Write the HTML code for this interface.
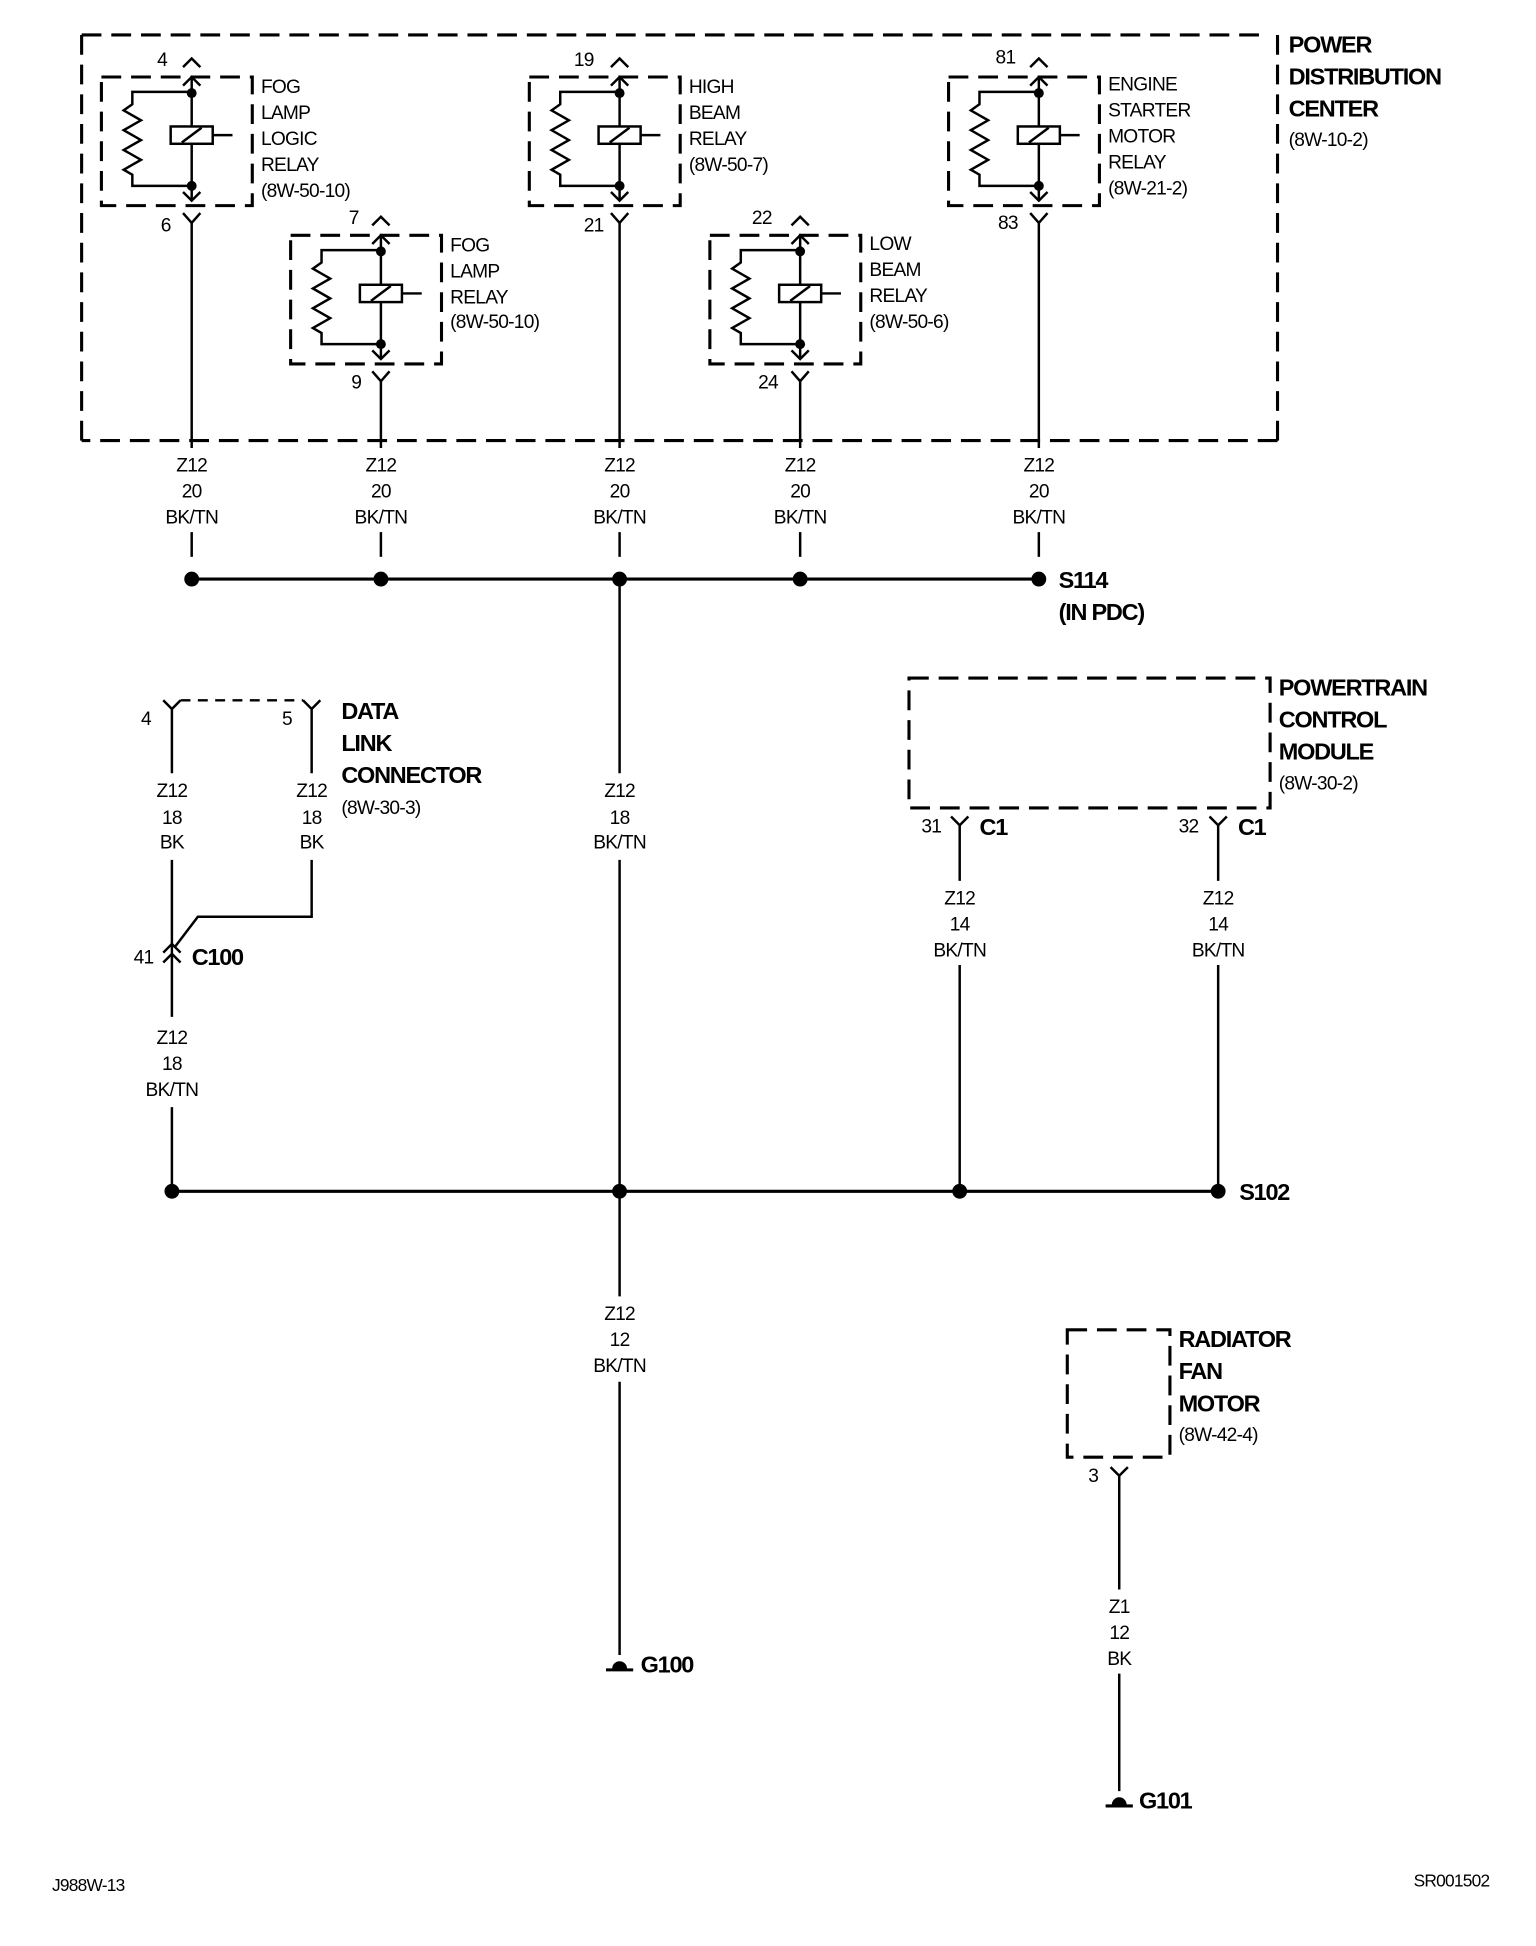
<!DOCTYPE html>
<html><head><meta charset="utf-8"><style>
html,body{margin:0;padding:0;background:#fff}
svg{display:block}
text{font-family:"Liberation Sans",sans-serif;fill:#000}
.s{font-size:15.5px;letter-spacing:-0.6px}
.b{font-size:19px;font-weight:bold;letter-spacing:-1px}
.m{text-anchor:middle}
</style></head><body>
<svg width="1536" height="1946" viewBox="0 0 1242 1573" xmlns="http://www.w3.org/2000/svg">
<defs>
<g id="relay" fill="none" stroke="#000" stroke-width="2">
<rect x="-73" y="0" width="122" height="104" stroke-width="2.5" stroke-dasharray="16,8"/>
<path d="M-7,-8 L0,-15 L7,-8"/>
<path d="M-7,7 L0,0 L7,7"/>
<line x1="0" y1="0" x2="0" y2="40"/>
<line x1="0" y1="54" x2="0" y2="100"/>
<path d="M-7,93 L0,100 L7,93"/>
<rect x="-17" y="40" width="34" height="14"/>
<line x1="-8" y1="53" x2="8" y2="41"/>
<line x1="17" y1="47" x2="33" y2="47"/>
<path d="M0,12 L-48,12 L-48,22 L-55,27 L-41,35 L-55,43 L-41,51 L-55,59 L-41,67 L-55,75 L-48,79 L-48,88 L0,88"/>
<circle cx="0" cy="13" r="4" fill="#000" stroke="none"/>
<circle cx="0" cy="88" r="4" fill="#000" stroke="none"/>
<path d="M-7,110 L0,118 L7,110"/>
</g>
<g id="gnd"><path d="M-11,1 L11,1" stroke="#000" stroke-width="2.5"/><path d="M-6,0 A6,6 0 0 1 6,0 Z" fill="#000"/></g>
</defs>

<!-- PDC box -->
<g fill="none" stroke="#000" stroke-width="2.5" stroke-dasharray="16,8">
<line x1="66" y1="28" x2="1026" y2="28"/>
<line x1="1033" y1="28" x2="1033" y2="356"/>
<line x1="1033" y1="356" x2="66" y2="356"/>
<line x1="66" y1="356" x2="66" y2="28"/>
</g>
<text class="b" x="1042" y="42">POWER</text>
<text class="b" x="1042" y="68">DISTRIBUTION</text>
<text class="b" x="1042" y="94">CENTER</text>
<text class="s" x="1042" y="118">(8W-10-2)</text>

<use href="#relay" x="155" y="62"/>
<use href="#relay" x="308" y="190"/>
<use href="#relay" x="501" y="62"/>
<use href="#relay" x="647" y="190"/>
<use href="#relay" x="840" y="62"/>

<g class="s">
<text x="127" y="53">4</text><text x="130" y="187">6</text>
<text x="282" y="181">7</text><text x="284" y="314">9</text>
<text x="464" y="53">19</text><text x="472" y="187">21</text>
<text x="608" y="181">22</text><text x="613" y="314">24</text>
<text x="805" y="51">81</text><text x="807" y="185">83</text>

<text x="211" y="75">FOG</text><text x="211" y="96">LAMP</text><text x="211" y="117">LOGIC</text><text x="211" y="138">RELAY</text><text x="211" y="159">(8W-50-10)</text>
<text x="364" y="203">FOG</text><text x="364" y="224">LAMP</text><text x="364" y="245">RELAY</text><text x="364" y="265">(8W-50-10)</text>
<text x="557" y="75">HIGH</text><text x="557" y="96">BEAM</text><text x="557" y="117">RELAY</text><text x="557" y="138">(8W-50-7)</text>
<text x="703" y="202">LOW</text><text x="703" y="223">BEAM</text><text x="703" y="244">RELAY</text><text x="703" y="265">(8W-50-6)</text>
<text x="896" y="73">ENGINE</text><text x="896" y="94">STARTER</text><text x="896" y="115">MOTOR</text><text x="896" y="136">RELAY</text><text x="896" y="157">(8W-21-2)</text>
</g>

<g stroke="#000" stroke-width="2" fill="none">
<line x1="155" y1="180" x2="155" y2="362"/><line x1="155" y1="430" x2="155" y2="450"/>
<line x1="308" y1="308" x2="308" y2="362"/><line x1="308" y1="430" x2="308" y2="450"/>
<line x1="501" y1="180" x2="501" y2="362"/><line x1="501" y1="430" x2="501" y2="450"/>
<line x1="647" y1="308" x2="647" y2="362"/><line x1="647" y1="430" x2="647" y2="450"/>
<line x1="840" y1="180" x2="840" y2="362"/><line x1="840" y1="430" x2="840" y2="450"/>
<line x1="155" y1="468" x2="840" y2="468" stroke-width="2.5"/>
<line x1="501" y1="468" x2="501" y2="625"/><line x1="501" y1="695" x2="501" y2="1048"/>
<line x1="501" y1="1117" x2="501" y2="1338"/>
<!-- DLC -->
<path d="M132,566 L139,573 L146,566 M245,566 L252,573 L259,566"/>
<line x1="146" y1="566" x2="245" y2="566" stroke-dasharray="8,6"/>
<line x1="139" y1="573" x2="139" y2="625"/><line x1="252" y1="573" x2="252" y2="625"/>
<line x1="139" y1="695" x2="139" y2="822"/>
<path d="M252,695 L252,741 L160,741 L141,766"/>
<path d="M132,770 L139,763 L146,770 M132,778 L139,771 L146,778"/>
<line x1="139" y1="895" x2="139" y2="963"/>
<line x1="139" y1="963" x2="985" y2="963" stroke-width="2.5"/>
<!-- PCM -->
<path d="M735,548 L1027,548 L1027,653 L735,653 Z" stroke-width="2.5" stroke-dasharray="16,8"/>
<path d="M769,660 L776,667 L783,660 M978,660 L985,667 L992,660"/>
<line x1="776" y1="667" x2="776" y2="712"/><line x1="985" y1="667" x2="985" y2="712"/>
<line x1="776" y1="780" x2="776" y2="963"/><line x1="985" y1="780" x2="985" y2="963"/>
<!-- Radiator -->
<path d="M863,1075 L946,1075 L946,1178 L863,1178 Z" stroke-width="2.5" stroke-dasharray="16,8"/>
<path d="M898,1186 L905,1193 L912,1186"/>
<line x1="905" y1="1193" x2="905" y2="1285"/><line x1="905" y1="1353" x2="905" y2="1448"/>
</g>

<g fill="#000">
<circle cx="155" cy="468" r="6"/><circle cx="308" cy="468" r="6"/><circle cx="501" cy="468" r="6"/><circle cx="647" cy="468" r="6"/><circle cx="840" cy="468" r="6"/>
<circle cx="139" cy="963" r="6"/><circle cx="501" cy="963" r="6"/><circle cx="776" cy="963" r="6"/><circle cx="985" cy="963" r="6"/>
</g>
<use href="#gnd" x="501" y="1349"/>
<use href="#gnd" x="905" y="1459"/>

<g class="s m">
<text x="155" y="381">Z12</text><text x="155" y="402">20</text><text x="155" y="423">BK/TN</text>
<text x="308" y="381">Z12</text><text x="308" y="402">20</text><text x="308" y="423">BK/TN</text>
<text x="501" y="381">Z12</text><text x="501" y="402">20</text><text x="501" y="423">BK/TN</text>
<text x="647" y="381">Z12</text><text x="647" y="402">20</text><text x="647" y="423">BK/TN</text>
<text x="840" y="381">Z12</text><text x="840" y="402">20</text><text x="840" y="423">BK/TN</text>
<text x="139" y="644">Z12</text><text x="139" y="666">18</text><text x="139" y="686">BK</text>
<text x="252" y="644">Z12</text><text x="252" y="666">18</text><text x="252" y="686">BK</text>
<text x="501" y="644">Z12</text><text x="501" y="666">18</text><text x="501" y="686">BK/TN</text>
<text x="139" y="844">Z12</text><text x="139" y="865">18</text><text x="139" y="886">BK/TN</text>
<text x="776" y="731">Z12</text><text x="776" y="752">14</text><text x="776" y="773">BK/TN</text>
<text x="985" y="731">Z12</text><text x="985" y="752">14</text><text x="985" y="773">BK/TN</text>
<text x="501" y="1067">Z12</text><text x="501" y="1088">12</text><text x="501" y="1109">BK/TN</text>
<text x="905" y="1304">Z1</text><text x="905" y="1325">12</text><text x="905" y="1346">BK</text>
</g>
<g class="s">
<text x="114" y="586">4</text><text x="228" y="586">5</text>
<text x="108" y="779">41</text>
<text x="745" y="673">31</text><text x="953" y="673">32</text>
<text x="880" y="1198">3</text>
<text x="276" y="658">(8W-30-3)</text>
<text x="1034" y="638">(8W-30-2)</text>
<text x="953" y="1165">(8W-42-4)</text>
<text x="42" y="1529" style="font-size:14px">J988W-13</text>
<text x="1143" y="1525" style="font-size:14px">SR001502</text>
</g>
<g class="b">
<text x="856" y="475">S114</text><text x="856" y="501">(IN PDC)</text>
<text x="276" y="581">DATA</text><text x="276" y="607">LINK</text><text x="276" y="633">CONNECTOR</text>
<text x="155" y="780">C100</text>
<text x="1034" y="562">POWERTRAIN</text><text x="1034" y="588">CONTROL</text><text x="1034" y="614">MODULE</text>
<text x="792" y="675">C1</text><text x="1001" y="675">C1</text>
<text x="1002" y="970">S102</text>
<text x="953" y="1089">RADIATOR</text><text x="953" y="1115">FAN</text><text x="953" y="1141">MOTOR</text>
<text x="518" y="1352">G100</text>
<text x="921" y="1462">G101</text>
</g>
</svg>
</body></html>
